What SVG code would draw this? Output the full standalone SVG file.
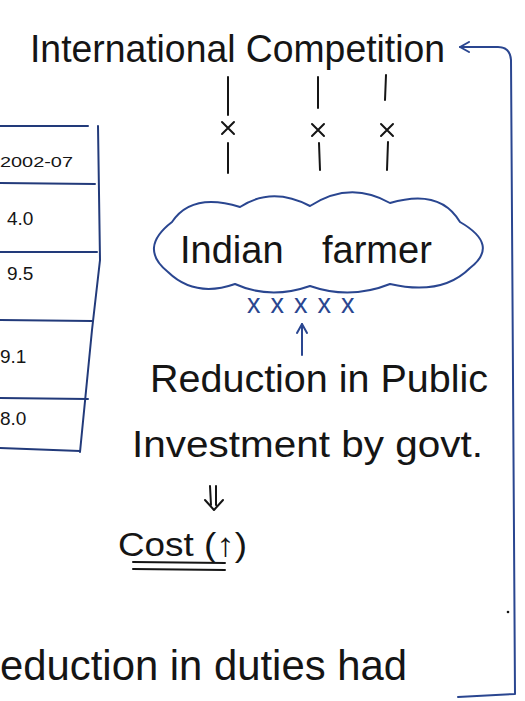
<svg xmlns="http://www.w3.org/2000/svg" width="525" height="701" viewBox="0 0 525 701">
<defs>
<style>
.t{font-family:"Liberation Sans","DejaVu Sans",sans-serif;fill:#151515;}
.ink{fill:none;stroke:#151515;stroke-width:2;stroke-linecap:round;stroke-linejoin:round;}
.blue{fill:none;stroke:#2a4690;stroke-width:2;stroke-linecap:round;stroke-linejoin:round;}
.tab{fill:none;stroke:#223a7a;stroke-width:2;stroke-linecap:round;}
.num{font-family:"Liberation Sans","DejaVu Sans",sans-serif;fill:#151515;font-size:19px;}
</style>
<marker id="open" viewBox="-10 -6 12 12" markerWidth="12" markerHeight="12" refX="0" refY="0" orient="auto" markerUnits="userSpaceOnUse">
<path d="M-9,-5 L0,0 L-9,5" fill="none" stroke="#2a4690" stroke-width="2" stroke-linecap="round" stroke-linejoin="round"/>
</marker>
</defs>
<rect width="525" height="701" fill="#ffffff"/>

<g id="table">
<path class="tab" d="M0,126 L88,126"/>
<path class="tab" d="M0,183 L95,184"/>
<path class="tab" d="M0,252 L97,252"/>
<path class="tab" d="M0,320 L92,321"/>
<path class="tab" d="M0,398 L88,399"/>
<path class="tab" d="M0,448 L80,451"/>
<path class="tab" d="M98,126 L100,260 L92,330 L80,452"/>
<text class="t" x="0" y="167" font-size="15" textLength="73" lengthAdjust="spacingAndGlyphs">2002-07</text>
<text class="num" x="7" y="225">4.0</text>
<text class="num" x="7" y="280">9.5</text>
<text class="num" x="0" y="363">9.1</text>
<text class="num" x="0" y="425">8.0</text>
</g>

<g id="international-competition">
<text class="t" x="30" y="62" font-size="38" textLength="415" lengthAdjust="spacingAndGlyphs">International Competition</text>
</g>

<g id="indian-farmer">
<path class="blue" d="M168,272 Q138,248 172,222 Q192,192 240,207 Q272,186 310,206 Q350,180 390,203 Q440,188 460,222 Q500,245 470,268 Q442,296 390,284 Q350,300 310,286 Q270,300 235,284 Q195,298 168,272 Z"/>
<text class="t" y="263" font-size="38"><tspan x="180">Indian</tspan> <tspan x="322">farmer</tspan></text>
</g>

<g id="blue-crosses">
<text x="247" y="313" font-family="Liberation Sans, sans-serif" font-size="27" fill="#2a4690" letter-spacing="10">xxxxx</text>
</g>

<g id="reduction">
<text class="t" x="150" y="392" font-size="38" textLength="338" lengthAdjust="spacingAndGlyphs">Reduction in Public</text>
<text class="t" x="132" y="457" font-size="37" textLength="351" lengthAdjust="spacingAndGlyphs">Investment by govt.</text>
</g>

<g id="cost">
<text class="t" x="118" y="556" font-size="33" textLength="129" lengthAdjust="spacingAndGlyphs">Cost (↑)</text>
<path class="ink" d="M133,562 L225,563 M133,569 L225,570"/>
</g>

<g id="duties">
<text class="t" x="0" y="680" font-size="42" textLength="407" lengthAdjust="spacingAndGlyphs">eduction in duties had</text>
<circle cx="508" cy="612" r="1.3" fill="#151515"/>
</g>

<g id="connectors">
<path class="ink" d="M228,77 L228,115 M222,122 L234,134 M234,122 L222,134 M228,143 L228,173"/>
<path class="ink" d="M318,77 L318,108 M312,124 L324,136 M324,124 L312,136 M319,143 L320,170"/>
<path class="ink" d="M386,75 L385,100 M381,124 L393,136 M393,124 L381,136 M388,142 L387,170"/>
<path class="blue" d="M302,355 L302,324" marker-end="url(#open)"/>
<path class="ink" d="M210,486 L211,505 M216,486 L216,505 M205,500 L214,510 L223,500"/>
<path class="blue" d="M458,697 L515,694 L511,60 Q510,47 498,47 L460,47" marker-end="url(#open)"/>
</g>
</svg>
